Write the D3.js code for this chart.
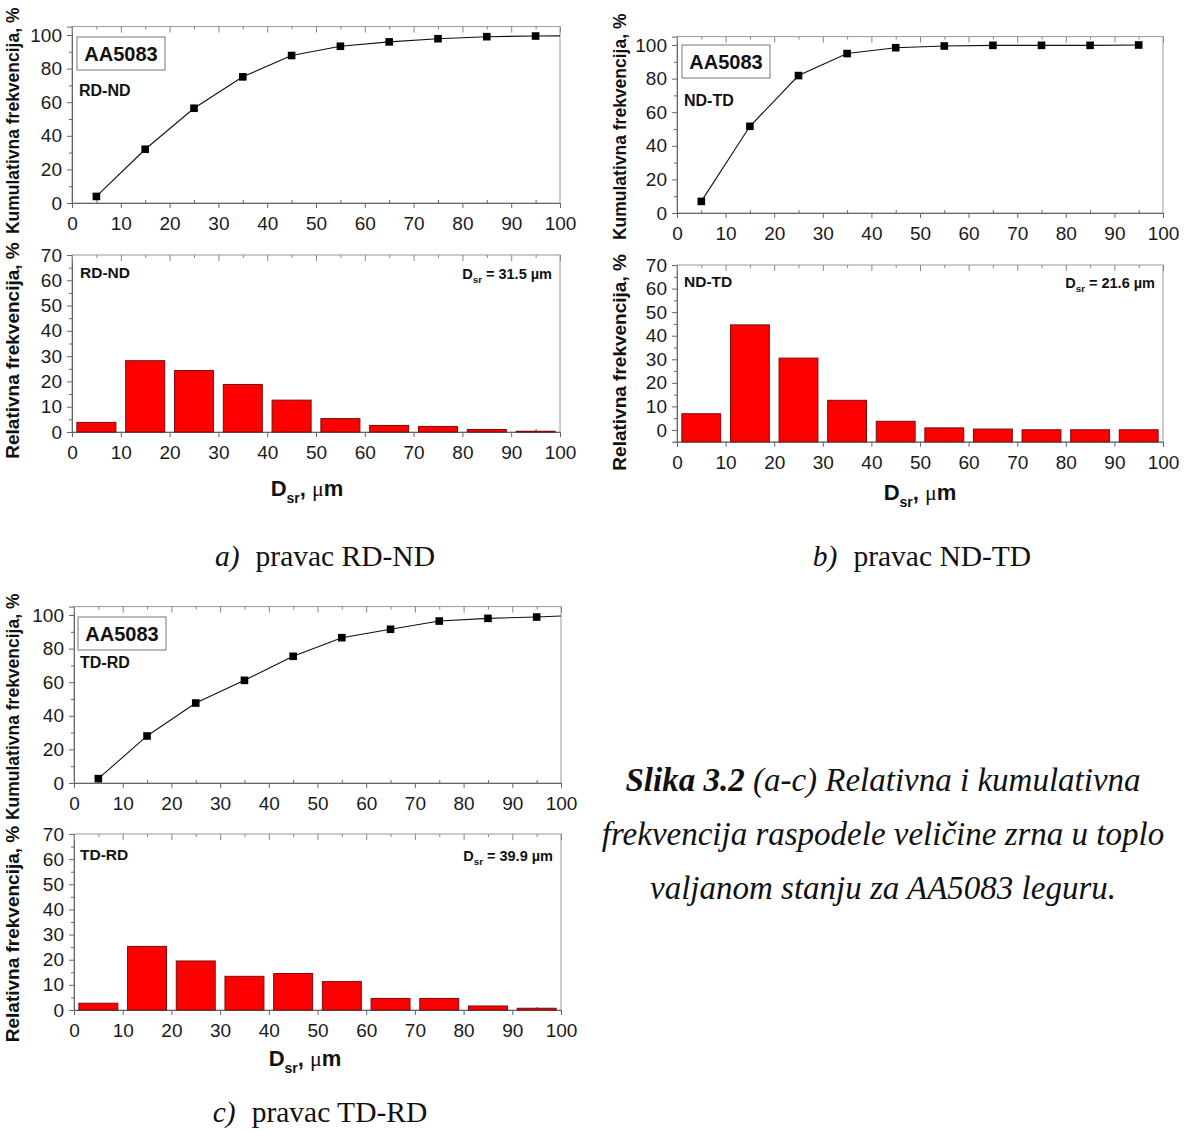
<!DOCTYPE html>
<html>
<head>
<meta charset="utf-8">
<script src="https://cdn.jsdelivr.net/npm/d3@7"></script>
<style>
html,body{margin:0;padding:0;background:#fff;}
svg{display:block;}
</style>
</head>
<body>
<svg id="c" width="1193" height="1131"></svg>
<script>
// ---------- DATA ----------
const binStarts = [0, 10, 20, 30, 40, 50, 60, 70, 80, 90];
const binCenters = [5, 15, 25, 35, 45, 55, 65, 75, 85, 95];
const xTicks = [0, 10, 20, 30, 40, 50, 60, 70, 80, 90, 100];
const cumTicks = [0, 20, 40, 60, 80, 100];
const relTicks = [0, 10, 20, 30, 40, 50, 60, 70];

const relA = [3.8, 28.2, 24.3, 18.8, 12.6, 5.3, 2.6, 2.2, 1.0, 0.3];
const cumA = [3.9, 32.0, 56.4, 75.1, 87.8, 93.3, 95.9, 97.8, 99.0, 99.4];
const tailA = 99.5;   // line end value at x = 100

const relB = [6.9, 44.6, 30.5, 12.6, 3.7, 0.9, 0.4, 0.1, 0.1, 0.1];
const cumB = [6.9, 51.6, 81.8, 94.9, 98.4, 99.4, 99.8, 99.8, 99.8, 100.0];

const relC = [2.7, 25.3, 19.5, 13.4, 14.5, 11.3, 4.6, 4.6, 1.6, 0.7];
const cumC = [2.6, 28.0, 47.6, 61.1, 75.4, 86.5, 91.5, 96.4, 98.0, 98.8];
const tailC = 99.4;

const orientations = ["RD-ND", "ND-TD", "TD-RD"];
const meanSizes = ["31.5", "21.6", "39.9"];
const alloy = "AA5083";
const cumTitle = "Kumulativna frekvencija, %";
const relTitle = "Relativna frekvencija, %";
const panelLetters = ["a)", "b)", "c)"];
const captionLines = [
  ["Slika 3.2", " (a-c) Relativna i kumulativna"],
  ["", "frekvencija raspodele veličine zrna u toplo"],
  ["", "valjanom stanju za AA5083 leguru."]
];

// ---------- DRAWING ----------
const svg = d3.select("#c");
const SANS = "'Liberation Sans', Arial, sans-serif";
const SERIF = "'Liberation Serif', 'Times New Roman', serif";
const TICK_FS = 19;

function frameAxes(g, x, y, yMajor, yMinorStep, yDomain) {
  const [x0, x1] = x.range();
  const [yb, yt] = y.range();
  g.append("rect").attr("x", x0).attr("y", yt).attr("width", x1 - x0).attr("height", yb - yt)
    .attr("fill", "none").attr("stroke", "#9a9a9a").attr("stroke-width", 1);
  const yMinor = d3.range(yDomain[0], yDomain[1] + 0.001, yMinorStep).filter(v => !yMajor.includes(v));
  g.append("g").attr("transform", `translate(${x0},0)`)
    .call(d3.axisLeft(y).tickValues(yMinor).tickSize(3).tickFormat(""))
    .call(a => a.select(".domain").remove())
    .call(a => a.selectAll("line").attr("stroke", "#666"));
  g.append("g").attr("transform", `translate(${x0},0)`)
    .call(d3.axisLeft(y).tickValues(yMajor).tickSize(5).tickPadding(5))
    .call(a => a.select(".domain").attr("stroke", "#666"))
    .call(a => a.selectAll("line").attr("stroke", "#666"))
    .call(a => a.selectAll("text").attr("font-family", SANS).attr("font-size", TICK_FS).attr("fill", "#1a1a1a"));
  const xMinor = d3.range(5, 100, 10);
  g.append("g").attr("transform", `translate(0,${yb})`)
    .call(d3.axisBottom(x).tickValues(xMinor).tickSize(-3).tickFormat(""))
    .call(a => a.select(".domain").remove())
    .call(a => a.selectAll("line").attr("stroke", "#666"));
  g.append("g").attr("transform", `translate(0,${yb})`)
    .call(d3.axisBottom(x).tickValues(xTicks).tickSize(5).tickPadding(9))
    .call(a => a.select(".domain").attr("stroke", "#666"))
    .call(a => a.selectAll("line").attr("stroke", "#666"))
    .call(a => a.selectAll("text").attr("font-family", SANS).attr("font-size", TICK_FS).attr("fill", "#1a1a1a"));
  g.append("g").attr("transform", `translate(0,${yt})`)
    .call(d3.axisTop(x).tickValues(xTicks).tickSize(-6).tickFormat(""))
    .call(a => a.select(".domain").remove())
    .call(a => a.selectAll("line").attr("stroke", "#888"));
  g.append("g").attr("transform", `translate(0,${yt})`)
    .call(d3.axisTop(x).tickValues(xMinor).tickSize(-3).tickFormat(""))
    .call(a => a.select(".domain").remove())
    .call(a => a.selectAll("line").attr("stroke", "#888"));
}

function yTitle(g, text, xPos, yMid, size) {
  g.append("text").attr("transform", `translate(${xPos},${yMid}) rotate(-90)`)
    .attr("text-anchor", "middle").attr("font-family", SANS).attr("font-weight", "bold")
    .attr("font-size", size).attr("fill", "#111").text(text);
}

function dsrText(g, xPos, yPos, size, suffix, anchor) {
  const t = g.append("text").attr("x", xPos).attr("y", yPos).attr("text-anchor", anchor)
    .attr("font-family", SANS).attr("font-weight", "bold").attr("font-size", size).attr("fill", "#111");
  t.append("tspan").text("D");
  t.append("tspan").attr("dy", size * 0.3).attr("font-size", size * 0.68).text("sr");
  t.append("tspan").attr("dy", -size * 0.3).text(suffix);
  return t;
}

function drawPanel(p) {
  const g = svg.append("g");
  // ---- cumulative ----
  const x = d3.scaleLinear().domain([0, 100]).range([p.xl, p.xr]);
  const yc = d3.scaleLinear().domain([0, 100]).range([p.cum0, p.cum100]);
  const ycTop = yc.invert(p.cumTop);
  yc.domain([0, ycTop]).range([p.cum0, p.cumTop]);
  const gc = g.append("g");
  frameAxes(gc, x, yc, cumTicks, 10, [0, 100]);
  const clipId = "clip" + p.idx;
  g.append("clipPath").attr("id", clipId).append("rect")
    .attr("x", p.xl).attr("y", p.cumTop).attr("width", p.xr - p.xl).attr("height", p.cum0 - p.cumTop);
  const pts = binCenters.map((c, i) => [c, p.cum[i]]);
  const linePts = p.tail != null ? pts.concat([[100, p.tail]]) : pts;
  gc.append("path").datum(linePts).attr("clip-path", `url(#${clipId})`)
    .attr("d", d3.line().x(d => x(d[0])).y(d => yc(d[1])))
    .attr("fill", "none").attr("stroke", "#111").attr("stroke-width", 1.1);
  gc.selectAll("rect.m").data(pts).join("rect").attr("class", "m")
    .attr("x", d => x(d[0]) - 3.8).attr("y", d => yc(d[1]) - 3.8)
    .attr("width", 7.6).attr("height", 7.6).attr("fill", "#000");
  const bx = gc.append("g");
  bx.append("rect").attr("x", p.boxX).attr("y", p.boxY).attr("width", 88).attr("height", 33)
    .attr("fill", "#fff").attr("stroke", "#777").attr("stroke-width", 1);
  bx.append("text").attr("x", p.boxX + 44).attr("y", p.boxY + 24).attr("text-anchor", "middle")
    .attr("font-family", SANS).attr("font-weight", "bold").attr("font-size", 20).attr("fill", "#111").text(alloy);
  gc.append("text").attr("x", p.oriX).attr("y", p.oriY).attr("font-family", SANS).attr("font-weight", "bold")
    .attr("font-size", 16).attr("fill", "#111").text(p.ori);
  yTitle(gc, cumTitle, p.ytX, (p.cum0 + p.cumTop) / 2 + p.ytShift, 17.5);

  // ---- relative ----
  const yr = d3.scaleLinear().domain([0, 70]).range([p.rel0, p.rel70]);
  const relMin = p.relMin;
  const yrFull = d3.scaleLinear().domain([relMin, 70]).range([yr(relMin), p.rel70]);
  const gr = g.append("g");
  frameAxes(gr, x, yrFull, relTicks, 5, [relMin, 70]);
  gr.selectAll("rect.bar").data(binStarts.map((s, i) => ({ s, v: p.rel[i] }))).join("rect")
    .attr("class", "bar")
    .attr("x", d => x(d.s + 1)).attr("width", x(8) - x(0))
    .attr("y", d => yrFull(d.v)).attr("height", d => yrFull(relMin) - yrFull(d.v))
    .attr("fill", "#ff0000").attr("stroke", "#7a0c0c").attr("stroke-width", 1);
  gr.append("text").attr("x", p.oriX2).attr("y", p.oriY2).attr("font-family", SANS).attr("font-weight", "bold")
    .attr("font-size", 15.5).attr("fill", "#111").text(p.ori);
  dsrText(gr, p.xr - 8, p.oriY2 + 1, 14.5, ` = ${p.mean} µm`, "end");
  yTitle(gr, relTitle, p.ytX, (yrFull(relMin) + p.rel70) / 2 + p.ytShift2, 19);
  const xt = gr.append("text").attr("x", p.xtX).attr("y", p.xtY).attr("text-anchor", "middle")
    .attr("font-family", SANS).attr("font-weight", "bold").attr("font-size", 22).attr("fill", "#111");
  xt.append("tspan").text("D");
  xt.append("tspan").attr("dy", 7).attr("font-size", 14).text("sr");
  xt.append("tspan").attr("dy", -7).text(", ");
  xt.append("tspan").attr("font-family", SERIF).attr("font-weight", "normal").attr("font-size", 22).text("μ");
  xt.append("tspan").text("m");

  const cap = svg.append("text").attr("x", p.capX).attr("y", p.capY).attr("text-anchor", "middle")
    .attr("font-family", SERIF).attr("font-size", 29.5).attr("fill", "#111");
  cap.append("tspan").attr("font-style", "italic").text(p.letter);
  cap.append("tspan").attr("dx", 16).text("pravac " + p.ori);
}

const panels = [
  { idx: 0, xl: 72, xr: 560, cum0: 203, cum100: 35, cumTop: 26.6, cum: cumA, tail: tailA,
    rel0: 432, rel70: 255, relMin: 0, rel: relA, ori: orientations[0], mean: meanSizes[0],
    boxX: 77, boxY: 37, oriX: 79, oriY: 96, oriX2: 80, oriY2: 278, ytX: 19, ytShift: 6, ytShift2: 7,
    xtX: 307, xtY: 496, capX: 325, capY: 566, letter: panelLetters[0] },
  { idx: 1, xl: 677, xr: 1163, cum0: 213, cum100: 45, cumTop: 36.6, cum: cumB, tail: null,
    rel0: 430, rel70: 265, relMin: -5, rel: relB, ori: orientations[1], mean: meanSizes[1],
    boxX: 682, boxY: 45, oriX: 684, oriY: 106, oriX2: 684, oriY2: 287, ytX: 626, ytShift: 2, ytShift2: 9,
    xtX: 920, xtY: 500, capX: 922, capY: 566, letter: panelLetters[1] },
  { idx: 2, xl: 74, xr: 561, cum0: 783, cum100: 615, cumTop: 606.6, cum: cumC, tail: tailC,
    rel0: 1010, rel70: 834, relMin: 0, rel: relC, ori: orientations[2], mean: meanSizes[2],
    boxX: 78, boxY: 617, oriX: 80, oriY: 668, oriX2: 80, oriY2: 860, ytX: 19, ytShift: 12, ytShift2: 12,
    xtX: 305, xtY: 1066, capX: 320, capY: 1122, letter: panelLetters[2] }
];
panels.forEach(drawPanel);

const lineYs = [791, 845, 899];
captionLines.forEach((ln, i) => {
  const t = svg.append("text").attr("x", 883).attr("y", lineYs[i]).attr("text-anchor", "middle")
    .attr("font-family", SERIF).attr("font-style", "italic").attr("font-size", 33).attr("fill", "#111");
  if (ln[0]) t.append("tspan").attr("font-weight", "bold").text(ln[0]);
  t.append("tspan").text(ln[1]);
});
</script>
</body>
</html>
